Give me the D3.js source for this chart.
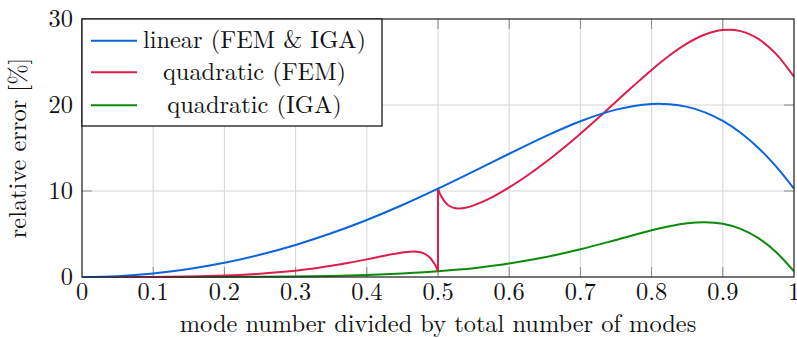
<!DOCTYPE html>
<html>
<head>
<meta charset="utf-8">
<script src="https://cdn.jsdelivr.net/npm/d3@7"></script>
<style>
  html, body { margin: 0; padding: 0; background: #fff; }
</style>
</head>
<body>
<svg id="chart" width="797" height="338"></svg>
<script>
// Relative frequency error vs. normalized mode number

// linear elements (FEM and IGA coincide)
const linearX = [0, 0.05, 0.1, 0.15, 0.2, 0.25, 0.3, 0.35, 0.4, 0.45, 0.5, 0.55, 0.6, 0.65, 0.7, 0.75, 0.8, 0.825, 0.85, 0.875, 0.9, 0.925, 0.95, 0.975, 1];
const linearY = [0, 0.10, 0.41, 0.93, 1.65, 2.59, 3.73, 5.08, 6.63, 8.37, 10.27, 12.28, 14.33, 16.33, 18.11, 19.46, 20.12, 20.09, 19.78, 19.15, 18.15, 16.78, 15.01, 12.83, 10.27];

// quadratic FEM: acoustic branch (first half of the spectrum)
const quadFemAcX = [0, 0.05, 0.1, 0.15, 0.2, 0.25, 0.275, 0.3, 0.325, 0.35, 0.375, 0.4, 0.425, 0.45, 0.46, 0.47, 0.475, 0.48, 0.485, 0.49, 0.495, 0.4975, 0.5];
const quadFemAcY = [0, 0, 0.01, 0.05, 0.16, 0.38, 0.54, 0.74, 0.99, 1.30, 1.65, 2.05, 2.48, 2.85, 2.94, 2.94, 2.87, 2.74, 2.50, 2.12, 1.53, 1.15, 0.66];

// quadratic FEM: optical branch (second half of the spectrum)
const quadFemOpX = [0.5, 0.5025, 0.505, 0.51, 0.515, 0.52, 0.525, 0.53, 0.54, 0.55, 0.575, 0.6, 0.625, 0.65, 0.675, 0.7, 0.725, 0.75, 0.775, 0.8, 0.825, 0.85, 0.875, 0.9, 0.925, 0.95, 0.975, 1];
const quadFemOpY = [10.27, 9.73, 9.33, 8.71, 8.32, 8.10, 8.00, 7.97, 8.09, 8.33, 9.24, 10.42, 11.77, 13.28, 14.92, 16.67, 18.50, 20.38, 22.26, 24.08, 25.75, 27.16, 28.20, 28.72, 28.59, 27.68, 25.92, 23.28];

// quadratic IGA
const quadIgaX = [0, 0.05, 0.1, 0.15, 0.2, 0.25, 0.3, 0.35, 0.4, 0.45, 0.475, 0.5, 0.525, 0.55, 0.6, 0.65, 0.7, 0.75, 0.8, 0.825, 0.85, 0.875, 0.9, 0.925, 0.95, 0.975, 1];
const quadIgaY = [0, 0, 0.001, 0.002, 0.01, 0.03, 0.065, 0.13, 0.23, 0.40, 0.52, 0.66, 0.83, 1.03, 1.57, 2.29, 3.22, 4.31, 5.43, 5.90, 6.25, 6.37, 6.19, 5.60, 4.52, 2.88, 0.66];

const xTicks = [0, 0.1, 0.2, 0.3, 0.4, 0.5, 0.6, 0.7, 0.8, 0.9, 1];
const xTickLabels = ["0", "0.1", "0.2", "0.3", "0.4", "0.5", "0.6", "0.7", "0.8", "0.9", "1"];
const yTicks = [0, 10, 20, 30];

const legendLabels = ["linear (FEM & IGA)", "quadratic (FEM)", "quadratic (IGA)"];
const colors = { linear: "#0a64dc", fem: "#dc1e4b", iga: "#0a8c0a" };

const svg = d3.select("#chart");
const margin = { left: 82, right: 3, top: 19, bottom: 61 };
const W = 797, H = 338;
const x = d3.scaleLinear().domain([0, 1]).range([margin.left, W - margin.right]);
const y = d3.scaleLinear().domain([0, 30]).range([H - margin.bottom, margin.top]);

const x0 = x.range()[0], x1 = x.range()[1];
const yb = y.range()[0], yt = y.range()[1];

// grid
const grid = svg.append("g");
grid.selectAll("line.gx").data(xTicks.slice(1, -1)).join("line")
  .attr("x1", d => x(d)).attr("x2", d => x(d)).attr("y1", yb).attr("y2", yt)
  .attr("stroke", "#d6d6d6").attr("stroke-width", 1);
grid.selectAll("line.gy").data(yTicks.slice(1, -1)).join("line")
  .attr("x1", x0).attr("x2", x1).attr("y1", d => y(d)).attr("y2", d => y(d))
  .attr("stroke", "#d6d6d6").attr("stroke-width", 1);

// inner tick marks on all four sides
const tickLen = 10;
const ticks = svg.append("g").attr("stroke", "#8a8a8a").attr("stroke-width", 1);
xTicks.slice(1, -1).forEach(t => {
  ticks.append("line").attr("x1", x(t)).attr("x2", x(t)).attr("y1", yb).attr("y2", yb - tickLen);
  ticks.append("line").attr("x1", x(t)).attr("x2", x(t)).attr("y1", yt).attr("y2", yt + tickLen);
});
yTicks.slice(1, -1).forEach(t => {
  ticks.append("line").attr("x1", x0).attr("x2", x0 + tickLen).attr("y1", y(t)).attr("y2", y(t));
  ticks.append("line").attr("x1", x1).attr("x2", x1 - tickLen).attr("y1", y(t)).attr("y2", y(t));
});

// curves
const curve = d3.curveCatmullRom.alpha(0.5);
const line = d3.line().x(d => x(d[0])).y(d => y(d[1])).curve(curve);
const zip = (a, b) => a.map((v, i) => [v, b[i]]);
const plot = svg.append("g").attr("fill", "none").attr("stroke-width", 2).attr("stroke-linejoin", "round");

plot.append("path").attr("d", line(zip(quadIgaX, quadIgaY))).attr("stroke", colors.iga);
plot.append("path").attr("d", line(zip(quadFemAcX, quadFemAcY))).attr("stroke", colors.fem);
plot.append("path")
  .attr("d", d3.line().x(d => x(d[0])).y(d => y(d[1]))([[quadFemAcX[quadFemAcX.length - 1], quadFemAcY[quadFemAcY.length - 1]], [quadFemOpX[0], quadFemOpY[0]]]))
  .attr("stroke", colors.fem);
plot.append("path").attr("d", line(zip(quadFemOpX, quadFemOpY))).attr("stroke", colors.fem);
plot.append("path").attr("d", line(zip(linearX, linearY))).attr("stroke", colors.linear);

// frame
svg.append("rect").attr("x", x0).attr("y", yt).attr("width", x1 - x0).attr("height", yb - yt)
  .attr("fill", "none").attr("stroke", "#2a2a2a").attr("stroke-width", 1.3);

const fs = 24.4;
const txt = (sel) => sel.attr("font-size", fs).attr("fill", "#111")
  .style("font-family", "'Latin Modern Roman', 'CMU Serif', serif");
// tick labels
svg.append("g").selectAll("text").data(xTicks).join("text")
  .attr("x", d => x(d)).attr("y", 300).attr("text-anchor", "middle").call(txt)
  .text((d, i) => xTickLabels[i]);
svg.append("g").selectAll("text").data(yTicks).join("text")
  .attr("x", 73).attr("y", d => y(d) + 8).attr("text-anchor", "end").call(txt)
  .text(d => d);

// axis titles
svg.append("text").attr("x", (x0 + x1) / 2).attr("y", 332).attr("text-anchor", "middle")
  .call(txt).text("mode number divided by total number of modes");
svg.append("text").attr("transform", "translate(26,148) rotate(-90)").attr("text-anchor", "middle")
  .call(txt).text("relative error [%]");

// legend
const lg = svg.append("g");
lg.append("rect").attr("x", 82).attr("y", 19).attr("width", 300).attr("height", 107)
  .attr("fill", "#fff").attr("stroke", "#1a1a1a").attr("stroke-width", 1.3);
const rowsY = [40.7, 72.3, 105.3];
const rowColors = [colors.linear, colors.fem, colors.iga];
legendLabels.forEach((lab, i) => {
  lg.append("line").attr("x1", 91).attr("x2", 137).attr("y1", rowsY[i]).attr("y2", rowsY[i])
    .attr("stroke", rowColors[i]).attr("stroke-width", 2);
  lg.append("text").attr("x", 254.5).attr("y", rowsY[i] + 7.6).attr("text-anchor", "middle")
    .call(txt).text(lab);
});
</script>
</body>
</html>
